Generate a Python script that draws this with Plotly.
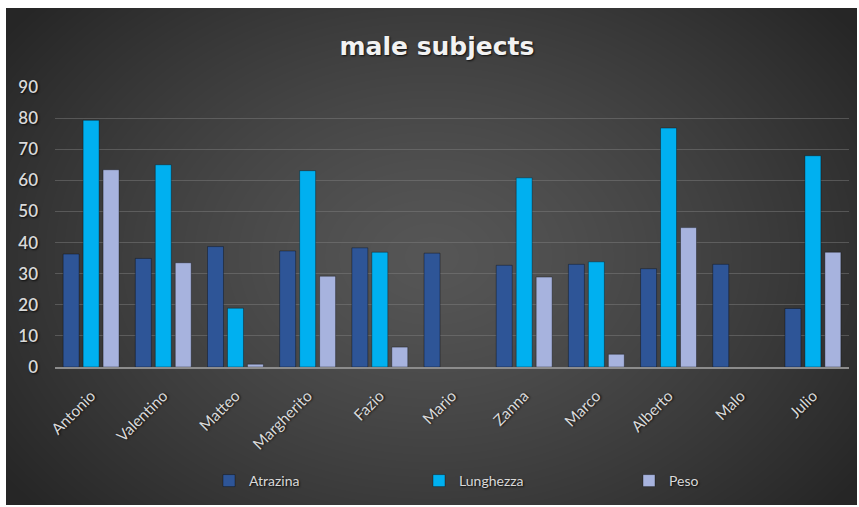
import base64
import struct
import zlib

import numpy as np
import plotly.graph_objects as go

# Measured values per subject
subjects = ["Antonio", "Valentino", "Matteo", "Margherito", "Fazio", "Mario",
            "Zanna", "Marco", "Alberto", "Malo", "Julio"]
atrazina = [36.3, 34.9, 38.7, 37.3, 38.3, 36.6, 32.7, 33.0, 31.6, 33.0, 18.8]
lunghezza = [79.3, 65.0, 18.9, 63.1, 36.9, 0, 60.8, 33.8, 76.8, 0, 67.9]
peso = [63.4, 33.5, 0.9, 29.2, 6.4, 0, 28.9, 4.1, 44.8, 0, 36.9]
y_ticks = [0, 10, 20, 30, 40, 50, 60, 70, 80, 90]

W, H = 859, 507
PLOT_L, PLOT_R, PLOT_T, PLOT_B = 55, 849, 87, 367
PW, PH = PLOT_R - PLOT_L, PLOT_B - PLOT_T


def radial_png(w, h):
    """Dark radial gradient (lighter centre) encoded as a PNG data URI."""
    yy, xx = np.mgrid[0:h, 0:w]
    cx, cy = w * 0.5, h * 0.5
    d = np.sqrt(((xx - cx) / (w * 0.62)) ** 2 + ((yy - cy) / (h * 0.78)) ** 2)
    d = np.clip(d, 0, 1)
    inner, outer = 86.0, 38.0
    v = (inner + (outer - inner) * d ** 1.3).astype(np.uint8)
    rgb = np.stack([v, v, v], axis=-1)
    raw = b"".join(b"\x00" + rgb[r].tobytes() for r in range(h))

    def chunk(tag, data):
        c = tag + data
        return struct.pack(">I", len(data)) + c + struct.pack(">I", zlib.crc32(c) & 0xFFFFFFFF)

    png = (b"\x89PNG\r\n\x1a\n"
           + chunk(b"IHDR", struct.pack(">IIBBBBB", w, h, 8, 2, 0, 0, 0))
           + chunk(b"IDAT", zlib.compress(raw, 9))
           + chunk(b"IEND", b""))
    return "data:image/png;base64," + base64.b64encode(png).decode()


font_family = "Lato, 'Open Sans', sans-serif"
shadow = "1px 1px 2px rgba(0,0,0,0.8)"


def bar(name, values, color):
    # no outline on empty bars so they stay invisible
    return go.Bar(name=name, x=subjects, y=values,
                  marker=dict(color=color,
                              line=dict(color="rgba(0,0,0,0.35)",
                                        width=[1 if v else 0 for v in values])))


fig = go.Figure([
    bar("Atrazina", atrazina, "#2E5597"),
    bar("Lunghezza", lunghezza, "#00B0F0"),
    bar("Peso", peso, "#A7B3DE"),
])

bg_l, bg_t, bg_r, bg_b = 6, 8, 857, 505
fig.update_layout(
    width=W, height=H,
    barmode="group", bargap=0.17, bargroupgap=0.2,
    paper_bgcolor="white", plot_bgcolor="rgba(0,0,0,0)",
    margin=dict(l=PLOT_L, r=W - PLOT_R, t=PLOT_T, b=H - PLOT_B, autoexpand=False),
    font=dict(family=font_family, color="#D9D9D9"),
    title=dict(text="<b>male subjects</b>", x=437 / W, xanchor="center",
               y=1 - 46 / H, yref="container", yanchor="middle",
               font=dict(size=25, color="#F2F2F2", family="'DejaVu Sans', sans-serif", shadow=shadow)),
    showlegend=True,
    legend=dict(orientation="h", x=(209 - PLOT_L) / PW, xanchor="left",
                y=-(481 - PLOT_B) / PH, yanchor="middle",
                font=dict(size=14, color="#D9D9D9", shadow=shadow),
                itemwidth=30, entrywidth=165, bgcolor="rgba(0,0,0,0)"),
    images=[dict(source=radial_png(bg_r - bg_l, bg_b - bg_t), xref="paper", yref="paper",
                 x=(bg_l - PLOT_L) / PW, y=(PLOT_B - bg_t) / PH,
                 sizex=(bg_r - bg_l) / PW, sizey=(bg_b - bg_t) / PH,
                 xanchor="left", yanchor="top", sizing="stretch", layer="below")],
)

fig.update_xaxes(tickangle=-45, tickfont=dict(size=15.5, color="#D9D9D9", shadow=shadow),
                 ticklabelstandoff=12,
                 showgrid=False, showline=True, linecolor="#8C8C8C", linewidth=1.5,
                 ticks="", automargin=False)
fig.update_yaxes(range=[0, 90], tickvals=y_ticks,
                 tickfont=dict(size=17, color="#D9D9D9", shadow=shadow, weight=600),
                 ticklabelstandoff=16,
                 showgrid=True, gridcolor="rgba(130,130,130,0.45)", gridwidth=1,
                 zeroline=False, showline=False, ticks="", automargin=False)

fig.write_html("out.html")
